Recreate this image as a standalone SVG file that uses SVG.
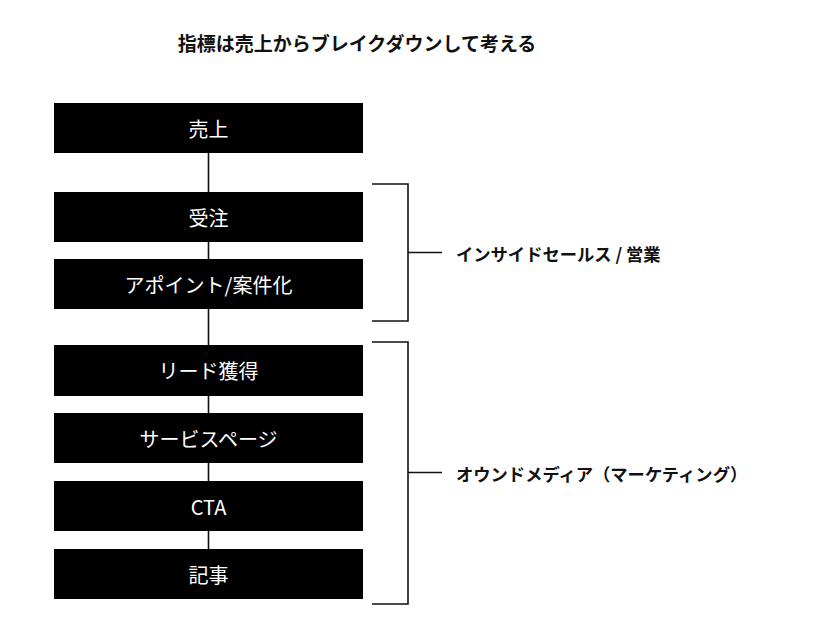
<svg xmlns="http://www.w3.org/2000/svg" width="828" height="638" viewBox="0 0 828 638">
<style>
.bx{fill:#000;}
.bt{font-family:"Noto Sans CJK JP",sans-serif;font-size:20px;fill:#fff;text-anchor:middle;dominant-baseline:central;}
.ln{stroke:#111;stroke-width:1.6;fill:none;}
.lb{font-family:"Noto Sans CJK JP",sans-serif;font-size:17.3px;font-weight:bold;fill:#111;dominant-baseline:central;}
.tt{font-family:"Noto Sans CJK JP",sans-serif;font-size:19px;font-weight:bold;fill:#111;text-anchor:middle;dominant-baseline:central;}
</style>
<rect width="828" height="638" fill="#fff"/>
<text class="tt" x="357" y="42">指標は売上からブレイクダウンして考える</text>
<g id="connectors">
<line class="ln" x1="208.5" y1="153" x2="208.5" y2="549"/>
<path class="ln" d="M372 184 H408 V321 H372 M408 252.5 H442"/>
<path class="ln" d="M372 342 H408 V604 H372 M408 472.5 H442"/>
</g>
<g id="n-uriage"><rect class="bx" x="54" y="103" width="309" height="50"/><text class="bt" x="208.5" y="128">売上</text></g>
<g id="n-juchu"><rect class="bx" x="54" y="192" width="309" height="50"/><text class="bt" x="208.5" y="217">受注</text></g>
<g id="n-appoint"><rect class="bx" x="54" y="259" width="309" height="50"/><text class="bt" x="208.5" y="284">アポイント/案件化</text></g>
<g id="n-lead"><rect class="bx" x="54" y="345" width="309" height="51"/><text class="bt" x="208.5" y="370.5">リード獲得</text></g>
<g id="n-service"><rect class="bx" x="54" y="413" width="309" height="50"/><text class="bt" x="208.5" y="438">サービスページ</text></g>
<g id="n-cta"><rect class="bx" x="54" y="481" width="309" height="50"/><text class="bt" x="208.5" y="506">CTA</text></g>
<g id="n-kiji"><rect class="bx" x="54" y="549" width="309" height="50"/><text class="bt" x="208.5" y="574">記事</text></g>
<g id="label-sales"><text class="lb" x="456" y="253">インサイドセールス / 営業</text></g>
<g id="label-media"><text class="lb" x="456" y="473">オウンドメディア（マーケティング）</text></g>
</svg>
